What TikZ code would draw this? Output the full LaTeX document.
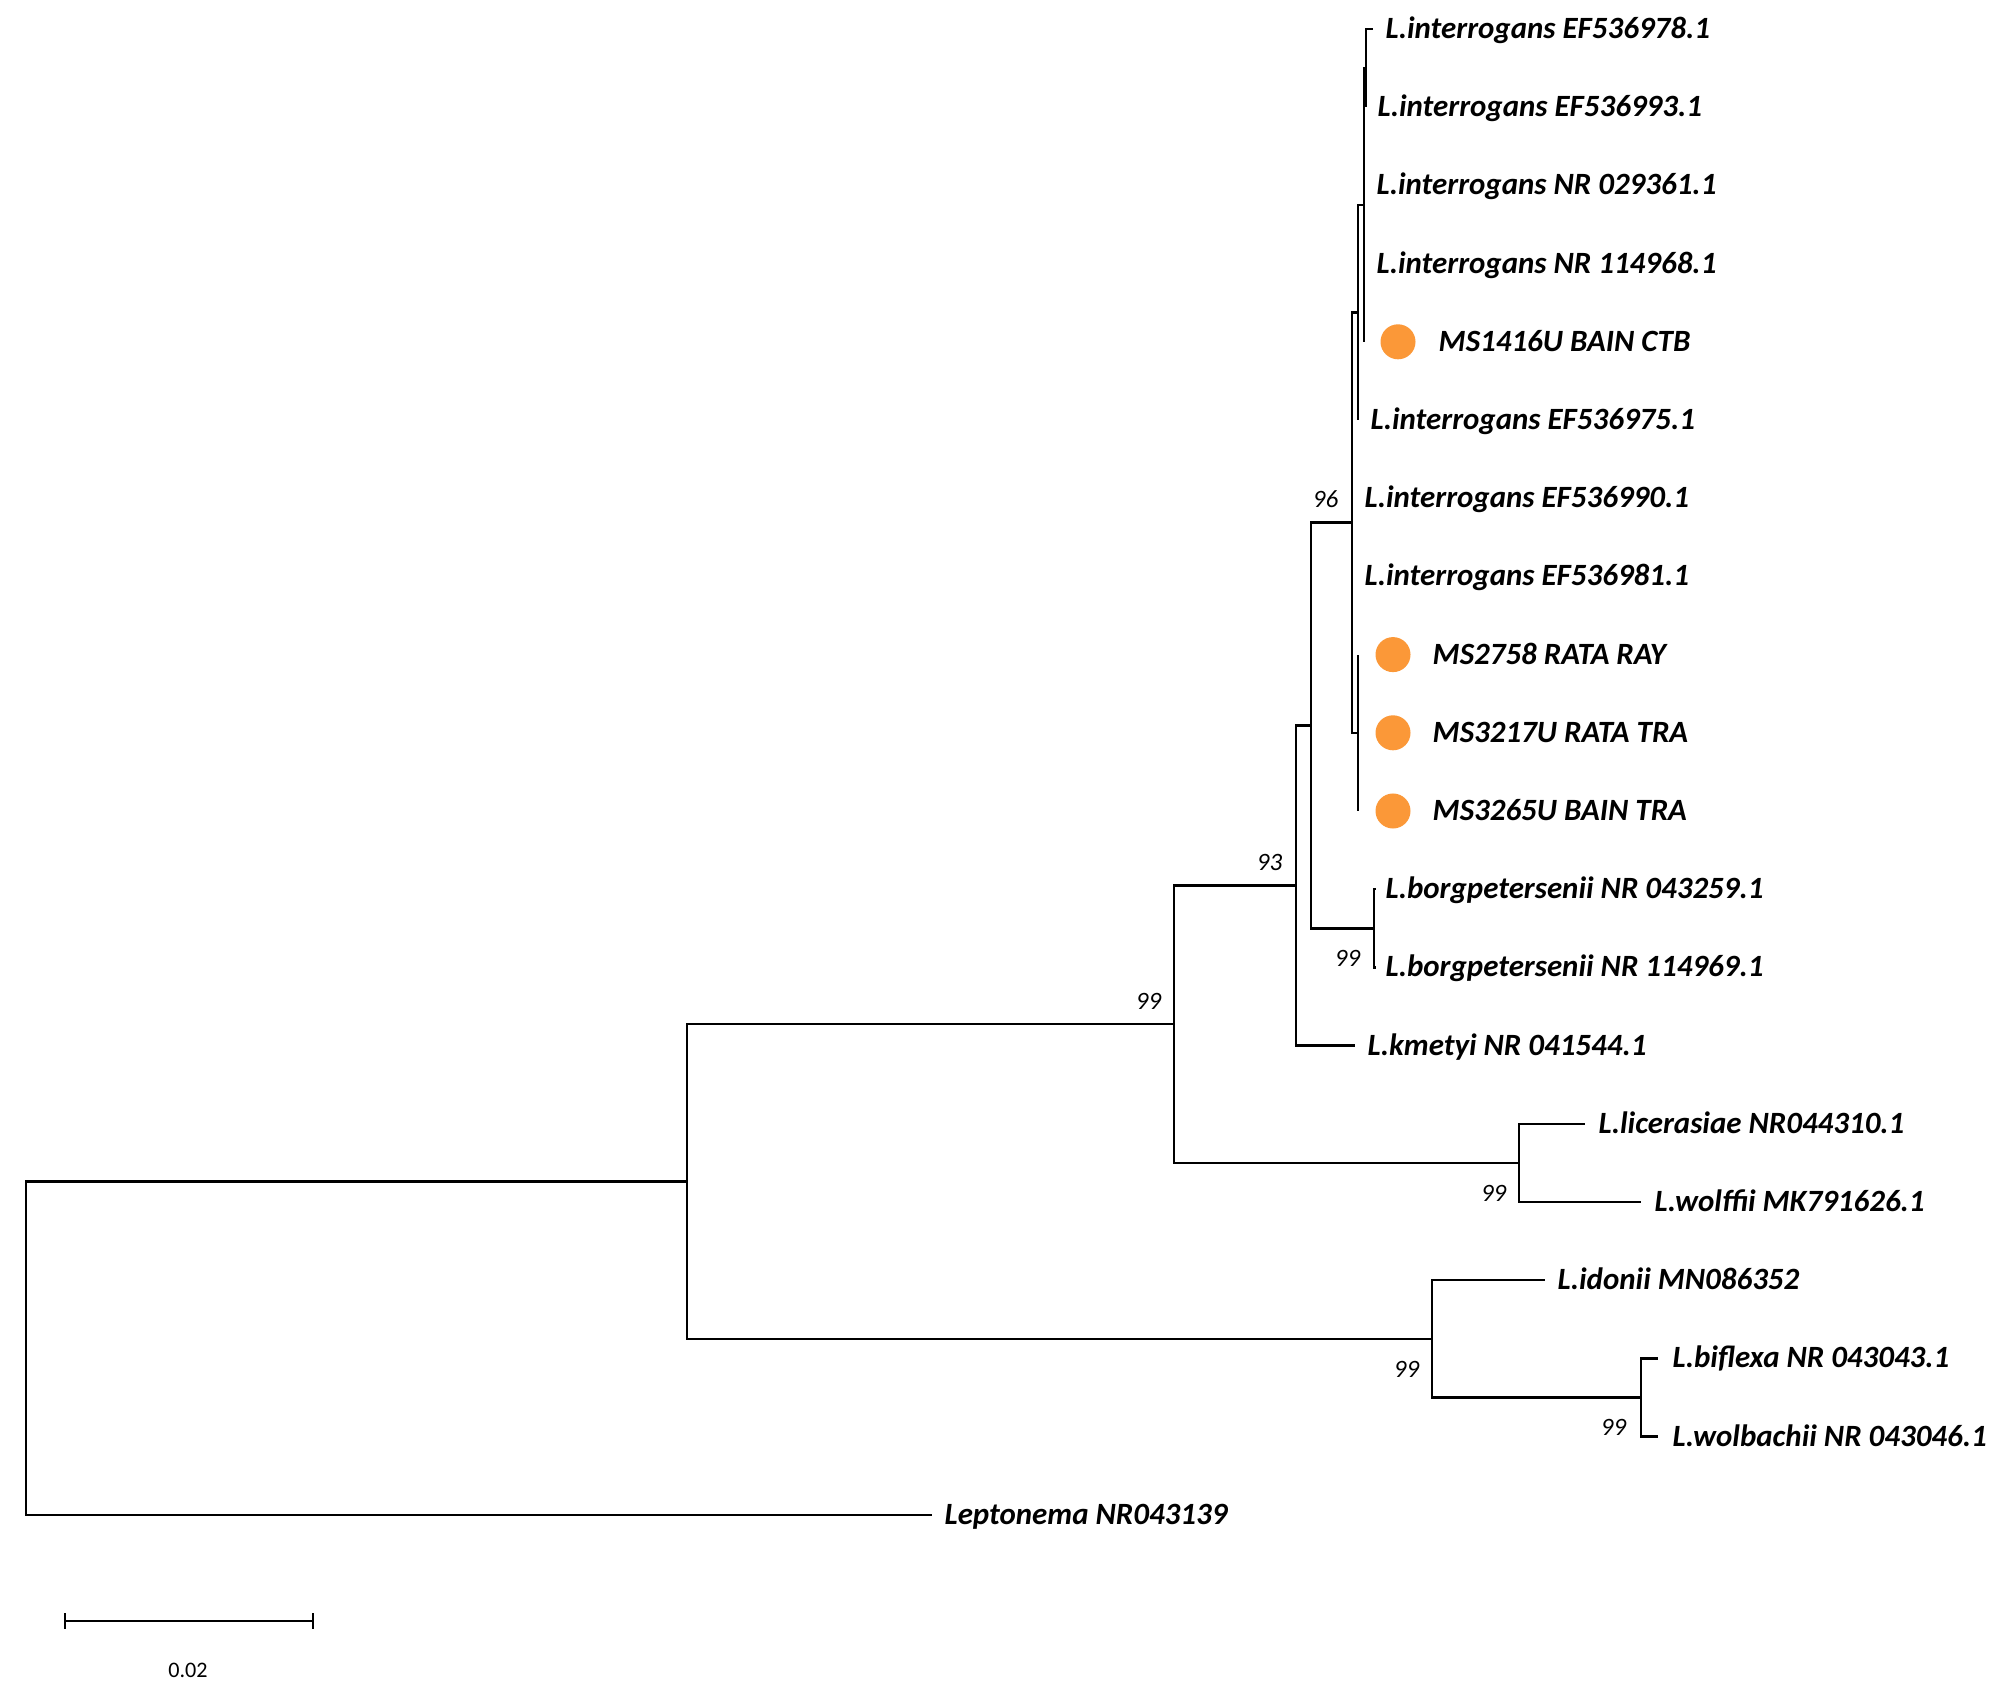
\documentclass[tikz,border=0pt]{standalone}
\usepackage{fontspec}
\setmainfont{Carlito}
\definecolor{dotorange}{RGB}{251,152,56}
\begin{document}
\begin{tikzpicture}[x=0.01cm,y=-0.01cm,
  br/.style={line width=0.72pt, black},
  tip/.style={anchor=base west, inner sep=0pt, font=\fontsize{8.8}{9.5}\selectfont\bfseries\itshape},
  boot/.style={anchor=east, inner sep=0pt, font=\fontsize{7.1}{8}\selectfont\itshape},
  dot/.style={circle, fill=dotorange, minimum size=0.35cm, inner sep=0pt}]
\useasboundingbox (0,0) rectangle (2002,1697);
% internal nodes
\coordinate (nA1) at (1366,68.1);
\coordinate (nA) at (1364,204.95);
\coordinate (nB) at (1358,312.5);
\coordinate (nC) at (1358,732.8);
\coordinate (nD) at (1352,522.65);
\coordinate (nBo) at (1374,928.3);
\coordinate (nDD) at (1311,725.5);
\coordinate (nE) at (1296,885.5);
\coordinate (nG) at (1519,1162.9);
\coordinate (nF) at (1174,1024.2);
\coordinate (nJ) at (1641,1397.5);
\coordinate (nH) at (1432,1338.85);
\coordinate (nI) at (687,1181.5);
\coordinate (root) at (26,1348.15);
% tips
\coordinate (t1) at (1373,29);
\coordinate (t2) at (1366,107.2);
\coordinate (t3) at (1364,185.4);
\coordinate (t4) at (1364,263.6);
\coordinate (t5) at (1364,341.8);
\coordinate (t6) at (1358,420);
\coordinate (t7) at (1352,498.2);
\coordinate (t8) at (1352,576.4);
\coordinate (t9) at (1358,654.6);
\coordinate (t10) at (1358,732.8);
\coordinate (t11) at (1358,811);
\coordinate (t12) at (1376,889.2);
\coordinate (t13) at (1376,967.4);
\coordinate (t14) at (1355,1045.6);
\coordinate (t15) at (1585,1123.8);
\coordinate (t16) at (1641,1202);
\coordinate (t17) at (1545,1280.2);
\coordinate (t18) at (1658,1358.4);
\coordinate (t19) at (1658,1436.6);
\coordinate (t20) at (932,1514.8);
% branches
\draw[br] (nA1) |- (t1) (nA1) |- (t2);
\draw[br] (nA) |- (nA1) (nA) |- (t3) (nA) |- (t4) (nA) |- (t5);
\draw[br] (nB) |- (nA) (nB) |- (t6);
\draw[br] (nC) |- (t9) (nC) |- (t10) (nC) |- (t11);
\draw[br] (nD) |- (nB) (nD) |- (t7) (nD) |- (t8) (nD) |- (nC);
\draw[br] (nBo) |- (t12) (nBo) |- (t13);
\draw[br] (nDD) |- (nD) (nDD) |- (nBo);
\draw[br] (nE) |- (nDD) (nE) |- (t14);
\draw[br] (nG) |- (t15) (nG) |- (t16);
\draw[br] (nF) |- (nE) (nF) |- (nG);
\draw[br] (nJ) |- (t18) (nJ) |- (t19);
\draw[br] (nH) |- (t17) (nH) |- (nJ);
\draw[br] (nI) |- (nF) (nI) |- (nH);
\draw[br] (root) |- (nI) (root) |- (t20);
% dots
\node[dot] (d5) at (1398,341.8) {};
\node[dot] (d9) at (1393,654.6) {};
\node[dot] (d10) at (1393,732.8) {};
\node[dot] (d11) at (1393,811) {};
% tip labels
\node[tip] (l1) at (1385,38.5) {L.interrogans EF536978.1};
\node[tip] (l2) at (1377,116.7) {L.interrogans EF536993.1};
\node[tip] (l3) at (1376,194.9) {L.interrogans NR 029361.1};
\node[tip] (l4) at (1376,273.1) {L.interrogans NR 114968.1};
\node[tip] (l5) at (1438,351.3) {MS1416U BAIN CTB};
\node[tip] (l6) at (1370,429.5) {L.interrogans EF536975.1};
\node[tip] (l7) at (1364,507.7) {L.interrogans EF536990.1};
\node[tip] (l8) at (1364,585.9) {L.interrogans EF536981.1};
\node[tip] (l9) at (1432,664.1) {MS2758 RATA RAY};
\node[tip] (l10) at (1432,742.3) {MS3217U RATA TRA};
\node[tip] (l11) at (1432,820.5) {MS3265U BAIN TRA};
\node[tip] (l12) at (1385,898.7) {L.borgpetersenii NR 043259.1};
\node[tip] (l13) at (1385,976.9) {L.borgpetersenii NR 114969.1};
\node[tip] (l14) at (1367,1055.1) {L.kmetyi NR 041544.1};
\node[tip] (l15) at (1598,1133.3) {L.licerasiae NR044310.1};
\node[tip] (l16) at (1654,1211.5) {L.wolffii MK791626.1};
\node[tip] (l17) at (1557,1289.7) {L.idonii MN086352};
\node[tip] (l18) at (1672,1367.9) {L.biflexa NR 043043.1};
\node[tip] (l19) at (1672,1446.1) {L.wolbachii NR 043046.1};
\node[tip] (l20) at (944,1524.3) {Leptonema NR043139};
% bootstrap values
\node[boot] (b96) at (1339,499) {96};
\node[boot] (b93) at (1283,862) {93};
\node[boot] (b99a) at (1361,958) {99};
\node[boot] (b99b) at (1162,1001) {99};
\node[boot] (b99c) at (1507,1193) {99};
\node[boot] (b99d) at (1420,1369) {99};
\node[boot] (b99e) at (1627,1427) {99};
% scale bar
\coordinate (s1) at (65,1621);
\coordinate (s2) at (313,1621);
\draw[br] (s1) -- (s2);
\draw[br] (s1) ++(0,-8) -- ++(0,16);
\draw[br] (s2) ++(0,-8) -- ++(0,16);
\node[inner sep=0pt, font=\fontsize{6.3}{7}\selectfont] (sl) at (188,1670) {0.02};
\end{tikzpicture}
\end{document}
